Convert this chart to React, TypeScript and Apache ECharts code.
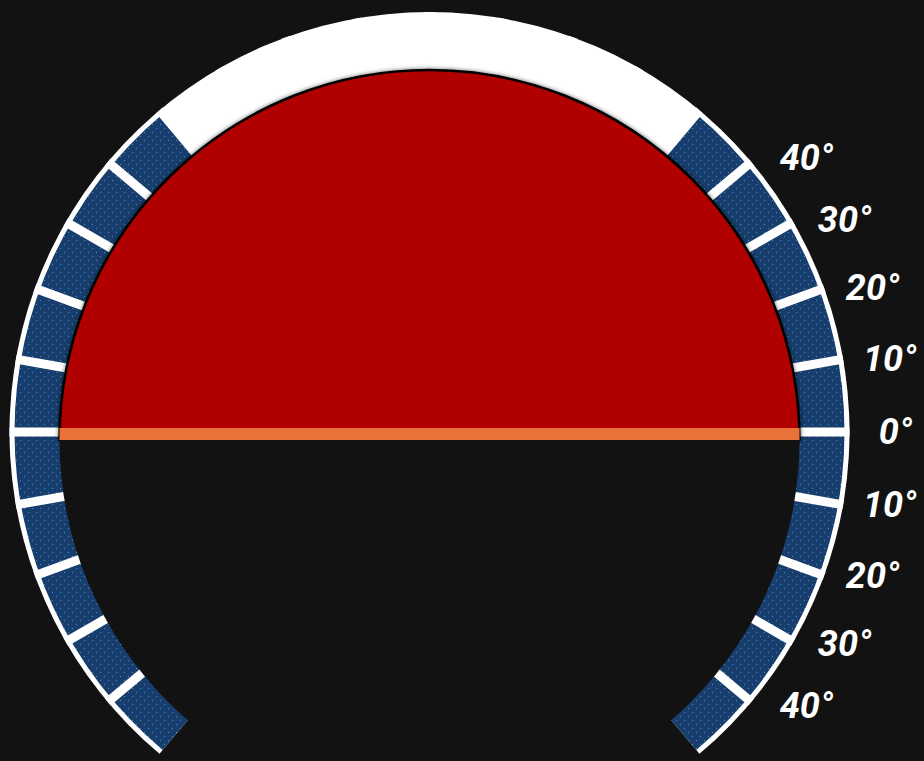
import React, { useEffect, useRef } from "react";
import * as echarts from "echarts";

// ---- data ----
// bezel spans in degrees, clockwise from 230° (lower-left end)
const bezelSpans = [100, 80, 100, 80]; // left scale, top blank, right scale, bottom opening
const bezelKinds = ["scale", "blank", "scale", "open"];
// bezel white gaps: every 10° from 220° down to -40°
const gapMin = 0;
const gapMax = 26;
// pitch scale label values (positive = above horizon)
const pitchTicks = [40, 30, 20, 10, 0, -10, -20, -30, -40];
// attitude disk halves (sky, ground)
const attitudeHalves = [180, 180];
const attitudeNames = ["sky", "ground"];

const BG = "#121212";
const BLUE = "#173e6c";
const RED = "#b10000";
const ORANGE = "#e9713a";

export default function App() {
  const ref = useRef<HTMLDivElement>(null);
  useEffect(() => {
    if (!ref.current) return;
    const chart = echarts.init(ref.current, null, { renderer: "svg" });
    const cx = 429.5;
    const cy = 432;
    const LABEL_R = 466;
    const decal = {
      symbol: "rect",
      symbolSize: 1,
      color: "rgba(88,150,230,0.85)",
      dashArrayX: [
        [1, 7],
        [0, 4, 1, 3],
      ],
      dashArrayY: [1, 3],
      rotation: 0,
    };
    chart.setOption({
      animation: false,
      backgroundColor: BG,
      polar: { center: [cx, cy], radius: LABEL_R },
      angleAxis: {
        type: "value",
        min: -200,
        max: 200,
        startAngle: 180,
        clockwise: false,
        show: false,
      },
      radiusAxis: { type: "value", min: 0, max: LABEL_R, show: false },
      series: [
        {
          type: "pie",
          silent: true,
          z: 1,
          center: [cx, cy],
          radius: [355, 420],
          startAngle: 230,
          clockwise: true,
          label: { show: false },
          labelLine: { show: false },
          emphasis: { disabled: true },
          data: [
            { value: 280, itemStyle: { color: "#ffffff" } },
            { value: 80, itemStyle: { color: "rgba(0,0,0,0)" } },
          ],
        },
        {
          type: "pie",
          silent: true,
          z: 2,
          center: [cx, cy],
          radius: [355, 415],
          startAngle: 230,
          clockwise: true,
          label: { show: false },
          labelLine: { show: false },
          emphasis: { disabled: true },
          data: bezelSpans.map((v, i) => ({
            value: v,
            name: bezelKinds[i],
            itemStyle:
              bezelKinds[i] === "scale"
                ? { color: BLUE, decal }
                : bezelKinds[i] === "blank"
                ? { color: "#ffffff" }
                : { color: "rgba(0,0,0,0)" },
          })),
        },
        {
          type: "gauge",
          silent: true,
          z: 3,
          center: [cx, cy],
          radius: 420,
          startAngle: 220,
          endAngle: -40,
          min: gapMin,
          max: gapMax,
          splitNumber: gapMax - gapMin,
          axisLine: { show: false, lineStyle: { width: 0 } },
          axisTick: { show: false },
          axisLabel: { show: false },
          pointer: { show: false },
          title: { show: false },
          detail: { show: false },
          splitLine: {
            show: true,
            length: 66,
            distance: 0,
            lineStyle: { color: "#ffffff", width: 9, cap: "butt" },
          },
          data: [],
        },
        {
          type: "pie",
          silent: true,
          z: 4,
          center: [cx, 440],
          radius: [0, 370],
          startAngle: 180,
          clockwise: true,
          label: { show: false },
          labelLine: { show: false },
          emphasis: { disabled: true },
          data: attitudeHalves.map((v, i) => ({
            value: v,
            name: attitudeNames[i],
            itemStyle:
              i === 0
                ? {
                    color: RED,
                    borderColor: "#000000",
                    borderWidth: 2.5,
                    shadowBlur: 4,
                    shadowColor: "rgba(0,0,0,0.6)",
                  }
                : { color: BG, borderWidth: 0 },
          })),
        },
        {
          type: "scatter",
          coordinateSystem: "polar",
          silent: true,
          z: 5,
          symbolSize: 0,
          itemStyle: { opacity: 1 },
          data: pitchTicks.map((v) => [LABEL_R, v]),
          label: {
            show: true,
            position: "inside",
            color: "#ffffff",
            opacity: 1,
            fontSize: 36,
            fontStyle: "italic",
            fontWeight: "bold",
            fontFamily: "Roboto, 'DejaVu Sans', sans-serif",
            align: "center",
            verticalAlign: "middle",
            formatter: (p: any) => Math.abs(p.value[1]) + "°",
          },
        },
      ],
      graphic: [
        {
          type: "rect",
          z: 100,
          silent: true,
          shape: { x: 59.5, y: 428, width: 740, height: 12 },
          style: { fill: ORANGE },
        },
      ],
    });
    return () => chart.dispose();
  }, []);
  return (
    <div
      ref={ref}
      style={{ position: "fixed", left: 0, top: 0, width: 924, height: 761 }}
    />
  );
}
